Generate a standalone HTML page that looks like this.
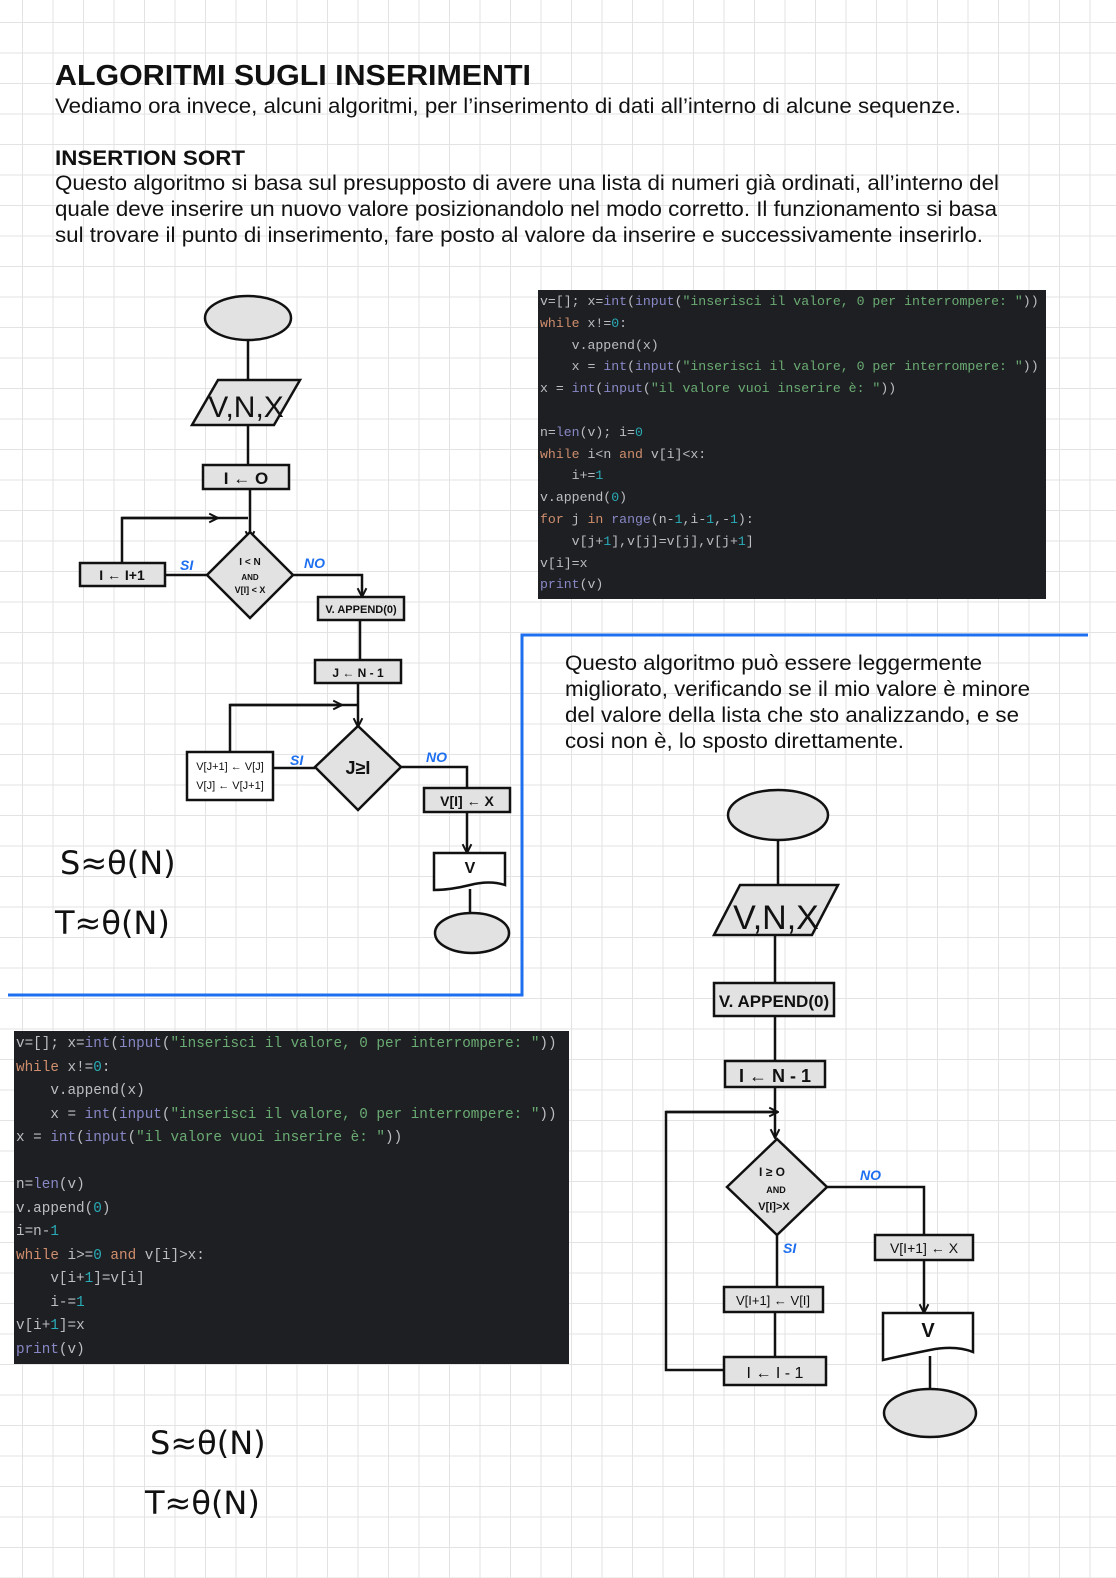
<!DOCTYPE html>
<html><head><meta charset="utf-8"><style>
html,body{margin:0;padding:0}
body{width:1116px;height:1578px;position:relative;overflow:hidden;background-color:#fff;
background-image:linear-gradient(to right,#e3e3e3 1px,transparent 1px),linear-gradient(to bottom,#e3e3e3 1px,transparent 1px);
background-size:30.5px 30.5px;background-position:22px 22px;font-family:"Liberation Sans",sans-serif}
pre{position:absolute;margin:0;background:#1e1f22;color:#bcbec4;font-family:"Liberation Mono",monospace;box-sizing:border-box}
.k{color:#cf8e6d}.b{color:#8888c6}.s{color:#6aab73}.n{color:#2aacb8}
svg{position:absolute;left:0;top:0}
</style></head><body>
<pre style="left:538px;top:290px;width:508px;height:309px;font-size:13.2px;line-height:21.8px;padding:1px 0 0 2px">v=[]; x=<span class="b">int</span>(<span class="b">input</span>(<span class="s">"inserisci il valore, 0 per interrompere: "</span>))
<span class="k">while</span> x!=<span class="n">0</span>:
    v.append(x)
    x = <span class="b">int</span>(<span class="b">input</span>(<span class="s">"inserisci il valore, 0 per interrompere: "</span>))
x = <span class="b">int</span>(<span class="b">input</span>(<span class="s">"il valore vuoi inserire è: "</span>))

n=<span class="b">len</span>(v); i=<span class="n">0</span>
<span class="k">while</span> i&lt;n <span class="k">and</span> v[i]&lt;x:
    i+=<span class="n">1</span>
v.append(<span class="n">0</span>)
<span class="k">for</span> j <span class="k">in</span> <span class="b">range</span>(n-<span class="n">1</span>,i-<span class="n">1</span>,-<span class="n">1</span>):
    v[j+<span class="n">1</span>],v[j]=v[j],v[j+<span class="n">1</span>]
v[i]=x
<span class="b">print</span>(v)</pre>
<pre style="left:14px;top:1031px;width:555px;height:333px;font-size:14.3px;line-height:23.5px;padding:2px 0 0 2px">v=[]; x=<span class="b">int</span>(<span class="b">input</span>(<span class="s">"inserisci il valore, 0 per interrompere: "</span>))
<span class="k">while</span> x!=<span class="n">0</span>:
    v.append(x)
    x = <span class="b">int</span>(<span class="b">input</span>(<span class="s">"inserisci il valore, 0 per interrompere: "</span>))
x = <span class="b">int</span>(<span class="b">input</span>(<span class="s">"il valore vuoi inserire è: "</span>))

n=<span class="b">len</span>(v)
v.append(<span class="n">0</span>)
i=n-<span class="n">1</span>
<span class="k">while</span> i&gt;=<span class="n">0</span> <span class="k">and</span> v[i]&gt;x:
    v[i+<span class="n">1</span>]=v[i]
    i-=<span class="n">1</span>
v[i+<span class="n">1</span>]=x
<span class="b">print</span>(v)</pre>
<svg width="1116" height="1578" viewBox="0 0 1116 1578">
<defs><marker id="a" viewBox="0 0 10 10" refX="9" refY="5" markerUnits="userSpaceOnUse" markerWidth="11" markerHeight="11" orient="auto"><path d="M1,1 L9,5 L1,9" fill="none" stroke="#111" stroke-width="1.8"/></marker></defs>
<g font-family="Liberation Sans,sans-serif" fill="#111" lengthAdjust="spacingAndGlyphs">
<text x="55" y="85" font-size="29" font-weight="bold" textLength="476" lengthAdjust="spacingAndGlyphs">ALGORITMI SUGLI INSERIMENTI</text>
<text x="55" y="113" font-size="21" textLength="906" lengthAdjust="spacingAndGlyphs">Vediamo ora invece, alcuni algoritmi, per l’inserimento di dati all’interno di alcune sequenze.</text>
<text x="55" y="165" font-size="21" font-weight="bold" textLength="190" lengthAdjust="spacingAndGlyphs">INSERTION SORT</text>
<text x="55" y="190" font-size="21" textLength="944" lengthAdjust="spacingAndGlyphs">Questo algoritmo si basa sul presupposto di avere una lista di numeri già ordinati, all’interno del</text>
<text x="55" y="216" font-size="21" textLength="942" lengthAdjust="spacingAndGlyphs">quale deve inserire un nuovo valore posizionandolo nel modo corretto. Il funzionamento si basa</text>
<text x="55" y="242" font-size="21" textLength="928" lengthAdjust="spacingAndGlyphs">sul trovare il punto di inserimento, fare posto al valore da inserire e successivamente inserirlo.</text>
<text x="565" y="670" font-size="21" textLength="417" lengthAdjust="spacingAndGlyphs">Questo algoritmo può essere leggermente</text>
<text x="565" y="696" font-size="21" textLength="465" lengthAdjust="spacingAndGlyphs">migliorato, verificando se il mio valore è minore</text>
<text x="565" y="722" font-size="21" textLength="454" lengthAdjust="spacingAndGlyphs">del valore della lista che sto analizzando, e se</text>
<text x="565" y="748" font-size="21" textLength="339" lengthAdjust="spacingAndGlyphs">cosi non è, lo sposto direttamente.</text>
</g>
<g stroke="#1e6ff0" stroke-width="3" fill="none"><path d="M1088,635 H522 V995 H8"/></g>
<g stroke="#111" stroke-width="2.5" fill="#e2e2e2">
<ellipse cx="248" cy="318" rx="43" ry="22"/>
<path d="M248,340V380 M248,425V465 M250,489V540" fill="none" marker-end="url(#a)"/>
<polygon points="218,380 300,380 274,425 192,425"/>
<rect x="203" y="465" width="86" height="24"/>
<path d="M122,563V518H248" fill="none"/><path d="M122,518H218" fill="none" marker-end="url(#a)"/>
<polygon points="250,532 293,575 250,618 207,575"/>
<rect x="80" y="563" width="85" height="23"/>
<path d="M165,575H207" fill="none"/>
<path d="M293,575H362V597" fill="none" marker-end="url(#a)"/>
<rect x="318" y="597" width="86" height="23"/>
<path d="M360,620V660" fill="none"/>
<rect x="315" y="660" width="86" height="23"/>
<path d="M358,683V727" fill="none" marker-end="url(#a)"/>
<path d="M230,752V705H358" fill="none"/><path d="M230,705H342" fill="none" marker-end="url(#a)"/>
<polygon points="358,726 401,767 358,810 315,767"/>
<rect x="187" y="752" width="86" height="48" fill="#fff"/>
<path d="M273,768H315" fill="none"/>
<path d="M401,767H467V788" fill="none"/>
<rect x="424" y="788" width="86" height="24"/>
<path d="M467,812V853" fill="none" marker-end="url(#a)"/>
<path d="M434,853H505V885Q490,880 470,885T434,890Z" fill="#fff"/>
<path d="M470,889V913" fill="none"/>
<ellipse cx="472" cy="933" rx="37" ry="20"/>
<ellipse cx="778" cy="815" rx="50" ry="25"/>
<path d="M778,840V885 M775,935V983 M775,1016V1061" fill="none"/>
<polygon points="740,885 838,885 812,935 714,935"/>
<rect x="714" y="983" width="120" height="33"/>
<rect x="725" y="1061" width="100" height="26"/>
<path d="M775,1087V1138" fill="none" marker-end="url(#a)"/>
<path d="M724,1370H666V1112H775" fill="none"/><path d="M666,1112H778" fill="none" marker-end="url(#a)"/>
<polygon points="777,1139 827,1187 777,1235 727,1187"/>
<path d="M827,1187H924V1235" fill="none"/>
<rect x="875" y="1235" width="98" height="25"/>
<path d="M924,1260V1313" fill="none" marker-end="url(#a)"/>
<path d="M883,1313H973V1352Q955,1345 930,1350T883,1360Z" fill="#fff"/>
<path d="M930,1356V1390" fill="none"/>
<ellipse cx="930" cy="1413" rx="46" ry="24"/>
<path d="M777,1235V1287 M775,1312V1357" fill="none"/>
<rect x="724" y="1287" width="99" height="25"/>
<rect x="724" y="1357" width="102" height="28"/>
</g>
<g font-family="Liberation Sans,sans-serif" fill="#111" text-anchor="middle">
<text x="246" y="417" font-size="30">V,N,X</text>
<text x="246" y="484" font-size="17" font-weight="bold">I ← O</text>
<text x="250" y="565" font-size="10" font-weight="bold">I &lt; N</text>
<text x="250" y="580" font-size="8" font-weight="bold">AND</text>
<text x="250" y="593" font-size="9" font-weight="bold">V[I] &lt; X</text>
<text x="122" y="580" font-size="14" font-weight="bold">I ← I+1</text>
<text x="361" y="613" font-size="11" font-weight="bold">V. APPEND(0)</text>
<text x="358" y="677" font-size="12" font-weight="bold">J ← N - 1</text>
<text x="358" y="774" font-size="18" font-weight="bold">J≥I</text>
<text x="230" y="770" font-size="11">V[J+1] ← V[J]</text>
<text x="230" y="789" font-size="11">V[J] ← V[J+1]</text>
<text x="467" y="806" font-size="14" font-weight="bold">V[I] ← X</text>
<text x="470" y="873" font-size="16" font-weight="bold">V</text>
<text x="776" y="929" font-size="34">V,N,X</text>
<text x="774" y="1007" font-size="17" font-weight="bold">V. APPEND(0)</text>
<text x="775" y="1082" font-size="18" font-weight="bold">I ← N - 1</text>
<text x="772" y="1176" font-size="12" font-weight="bold">I ≥ O</text>
<text x="776" y="1193" font-size="9" font-weight="bold">AND</text>
<text x="774" y="1210" font-size="11" font-weight="bold">V[I]&gt;X</text>
<text x="924" y="1253" font-size="14">V[I+1] ← X</text>
<text x="928" y="1337" font-size="20" font-weight="bold">V</text>
<text x="773" y="1305" font-size="13">V[I+1] ← V[I]</text>
<text x="775" y="1378" font-size="16">I ← I - 1</text>
</g>
<g font-family="Liberation Sans,sans-serif" fill="#1e6ff0" font-weight="bold" font-style="italic" font-size="14">
<text x="180" y="570">SI</text><text x="304" y="568">NO</text>
<text x="290" y="765">SI</text><text x="426" y="762">NO</text>
<text x="860" y="1180">NO</text><text x="783" y="1253">SI</text>
</g>
<g font-family="DejaVu Sans,sans-serif" fill="#111" font-size="32">
<text x="60" y="874">S≈θ(N)</text>
<text x="55" y="934">T≈θ(N)</text>
<text x="150" y="1454">S≈θ(N)</text>
<text x="145" y="1514">T≈θ(N)</text>
</g>
</svg>
</body></html>
